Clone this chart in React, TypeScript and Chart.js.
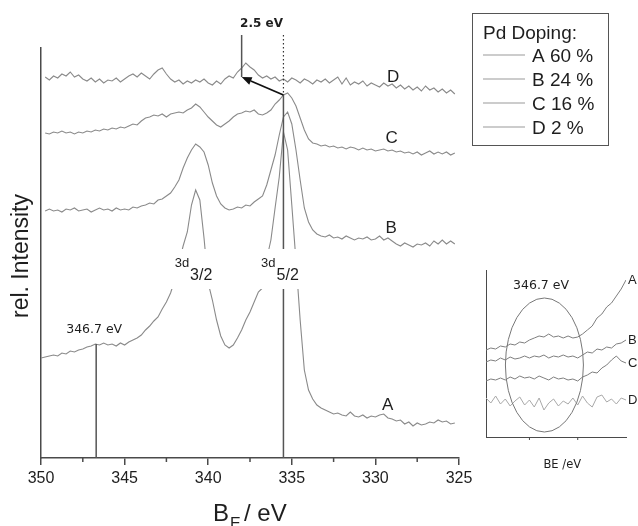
import React, { useEffect, useRef } from "react";
import { Chart, registerables } from "chart.js";

Chart.register(...registerables);

const SANS = '"Liberation Sans", Arial, Helvetica, sans-serif';
const DEJAVU = '"DejaVu Sans", Verdana, sans-serif';
const AXIS_COLOR = "#4a4a4a";
const CURVE_COLOR = "#8a8a8a";
const TEXT_COLOR = "#1e1e1e";

// ---- main spectra (binding energy in eV, relative intensity in arbitrary units) ----
const ENERGY = [
  350, 349.75, 349.5, 349.25, 349, 348.75, 348.5, 348.25, 348, 347.75, 347.5, 347.25,
  347, 346.75, 346.5, 346.25, 346, 345.75, 345.5, 345.25, 345, 344.75, 344.5, 344.25,
  344, 343.75, 343.5, 343.25, 343, 342.75, 342.5, 342.25, 342, 341.75, 341.5, 341.25,
  341, 340.75, 340.5, 340.25, 340, 339.75, 339.5, 339.25, 339, 338.75, 338.5, 338.25,
  338, 337.75, 337.5, 337.25, 337, 336.75, 336.5, 336.25, 336, 335.75, 335.5, 335.25,
  335, 334.75, 334.5, 334.25, 334, 333.75, 333.5, 333.25, 333, 332.75, 332.5, 332.25,
  332, 331.75, 331.5, 331.25, 331, 330.75, 330.5, 330.25, 330, 329.75, 329.5, 329.25,
  329, 328.75, 328.5, 328.25, 328, 327.75, 327.5, 327.25, 327, 326.75, 326.5, 326.25,
  326, 325.75, 325.5, 325.25,
];

const SERIES_A = [
  100, 101, 102, 103, 102, 105, 104, 107, 106, 108, 109, 111,
  112, 114, 113, 115, 113, 114, 112, 115, 113, 116, 118, 120,
  123, 128, 132, 137, 141, 149, 156, 165, 178, 195, 212, 226,
  253, 268, 258, 220, 175, 158, 138, 122, 113, 110, 113, 120,
  128, 138, 146, 156, 166, 170, 199, 218, 250, 281, 326, 308,
  253, 197, 138, 88, 68, 59, 53, 50, 48, 46, 44, 45,
  43, 42, 46, 42, 41, 43, 40, 42, 41, 43, 44, 40,
  39, 37, 38, 34, 36, 32, 35, 33, 34, 36, 35, 38,
  36, 37, 34, 35,
];

const SERIES_B = [
  null, 247, 249, 247, 248, 246, 249, 248, 250, 247, 248, 249,
  246, 248, 250, 248, 249, 247, 250, 248, 249, 248, 251, 250,
  252, 253, 255, 254, 258, 259, 262, 265, 271, 278, 290, 300,
  308, 314, 311, 306, 293, 275, 262, 254, 250, 248, 249, 251,
  250, 253, 252, 256, 259, 262, 273, 288, 303, 323, 341, 346,
  334, 308, 278, 250, 236, 228, 224, 222, 221, 223, 220, 221,
  219, 222, 220, 218, 220, 219, 221, 218, 219, 222, 218, 220,
  217, 214, 212, 215, 213, 211, 214, 213, 215, 212, 217, 214,
  218, 214, 217, 214,
];

const SERIES_C = [
  null, 325, 324, 326, 325, 327, 325, 326, 324, 326, 325, 327,
  326, 328, 327, 329, 328, 330, 329, 331, 330, 332, 334, 333,
  337, 340, 341, 343, 342, 344, 341, 344, 345, 346, 345, 348,
  350, 354, 351, 346, 341, 337, 333, 331, 334, 337, 341, 344,
  345, 347, 346, 348, 344, 343, 345, 348, 354, 358, 363, 365,
  360, 352, 340, 328, 319, 315, 314, 312, 313, 311, 312, 310,
  311, 309, 311, 310, 308, 310, 308, 309, 307, 308, 309, 307,
  308, 306, 307, 305, 306, 304, 306, 303, 305, 307, 304, 306,
  304, 306, 303, 305,
];

const SERIES_D = [
  null, 381, 378, 382, 380, 384, 382, 386, 381, 383, 379, 377,
  380, 376, 379, 375, 378, 377, 380, 376, 379, 382, 384, 381,
  385, 382, 379, 384, 388, 390, 384, 379, 376, 378, 374, 377,
  375, 378, 376, 379, 375, 373, 377, 374, 379, 382, 380, 386,
  390, 395, 391, 388, 383, 380, 382, 379, 381, 377, 379, 376,
  380, 378, 375, 379, 377, 374, 378, 376, 379, 375, 378, 381,
  374, 380, 373, 376, 374, 377, 372, 375, 373, 371, 375, 372,
  374, 370, 373, 369, 372, 368, 371, 367, 372, 368, 370, 366,
  369, 365, 368, 364,
];

const SERIES = [SERIES_A, SERIES_B, SERIES_C, SERIES_D];
const SERIES_LABELS = ["A 60 %", "B 24 %", "C 16 %", "D 2 %"];
const LEGEND_TITLE = "Pd Doping:";
const CURVE_TAGS = ["A", "B", "C", "D"];
// tag anchor: [binding energy, intensity level]
const CURVE_TAG_POS = [
  [329.6, 48],
  [329.4, 225],
  [329.4, 315],
  [329.3, 376],
];

const X_MAJOR_TICKS = [350, 345, 340, 335, 330, 325];
const X_MINOR_TICKS = [347.5, 342.5, 337.5, 332.5, 327.5];
const X_TITLE_MAIN = "B";
const X_TITLE_SUB = "E";
const X_TITLE_REST = "/ eV";
const Y_TITLE = "rel. Intensity";

const ONSET_EV = 346.7;
const ONSET_LEVEL = 114;
const ONSET_LABEL = "346.7 eV";
const PEAK_EV = 335.5;
const PEAK_LEVEL = 363;
const SHIFT_EV = 338.0;
const SHIFT_LEVEL = 381;
const TOP_LEVEL = 423;
const SHIFT_LABEL = "2.5 eV";
const PEAK_LABELS = [
  { ev: 340.75, main: "3d", sub: "3/2" },
  { ev: 335.4, main: "3d", sub: "5/2" },
];

// ---- inset ----
const INSET_ENERGY = [
  340.5, 341, 341.5, 342, 342.5, 343, 343.5, 344, 344.5, 345, 345.5, 346, 346.5, 347, 347.5,
  348, 348.5, 349, 349.5, 350, 350.5, 351, 351.5, 352, 352.5, 353, 353.5, 354, 354.5, 355,
];
const INSET_A = [87, 89, 88, 91, 90, 93, 92, 95, 94, 97, 99, 101, 100, 103, 100, 101, 99, 101, 99, 100, 103, 107, 111, 119, 123, 130, 134, 141, 148, 157];
const INSET_B = [75, 77, 76, 79, 77, 80, 78, 79, 81, 79, 81, 80, 82, 79, 81, 80, 82, 80, 81, 79, 82, 85, 84, 88, 87, 90, 89, 93, 94, 97];
const INSET_C = [56, 58, 57, 59, 57, 60, 58, 61, 59, 60, 58, 61, 59, 57, 60, 58, 59, 57, 58, 56, 60, 62, 65, 64, 69, 72, 77, 81, 76, 74];
const INSET_D = [39, 34, 41, 33, 38, 31, 36, 40, 32, 37, 30, 39, 27, 34, 38, 31, 36, 33, 39, 32, 41, 34, 30, 40, 42, 35, 38, 33, 39, 37];
const INSET_SERIES = [INSET_A, INSET_B, INSET_C, INSET_D];
const INSET_COLORS = ["#7e7e7e", "#7e7e7e", "#7e7e7e", "#a8a8a8"];
const INSET_TICKS = [345, 350];
const INSET_TITLE = "BE /eV";
const INSET_MARK_LABEL = "346.7 eV";
const INSET_TAG_LEVELS = [157, 97, 74, 37];

function line(ctx: any, x1: number, y1: number, x2: number, y2: number) {
  ctx.beginPath();
  ctx.moveTo(x1, y1);
  ctx.lineTo(x2, y2);
  ctx.stroke();
}

const mainDecor = {
  id: "mainDecor",
  afterDraw(chart: any) {
    const { ctx } = chart;
    const xs = chart.scales.x;
    const ys = chart.scales.y;
    const X = (v: number) => xs.getPixelForValue(v);
    const Y = (v: number) => ys.getPixelForValue(v);
    ctx.save();

    // minor ticks
    ctx.strokeStyle = AXIS_COLOR;
    ctx.lineWidth = 1.5;
    X_MINOR_TICKS.forEach((v) => line(ctx, X(v), ys.bottom, X(v), ys.bottom + 4));

    // reference lines
    ctx.strokeStyle = "#555";
    ctx.lineWidth = 1.5;
    line(ctx, X(ONSET_EV), Y(ONSET_LEVEL), X(ONSET_EV), ys.bottom);
    line(ctx, X(PEAK_EV), Y(PEAK_LEVEL), X(PEAK_EV), ys.bottom);

    // label band
    ctx.fillStyle = "#ffffff";
    ctx.fillRect(X(342.6), Y(209), X(334.3) - X(342.6), Y(169) - Y(209));

    // peak labels
    ctx.fillStyle = TEXT_COLOR;
    ctx.textAlign = "left";
    ctx.textBaseline = "alphabetic";
    PEAK_LABELS.forEach((p, i) => {
      const left = X(p.ev) - (i === 0 ? 21 : 24);
      ctx.font = `13px ${SANS}`;
      ctx.fillText(p.main, left, 267);
      const w = ctx.measureText(p.main).width;
      ctx.font = `16px ${SANS}`;
      ctx.fillText(p.sub, left + w + 1, 280);
    });

    // dotted line
    ctx.strokeStyle = "#333";
    ctx.lineWidth = 1.2;
    ctx.setLineDash([1.5, 2.5]);
    line(ctx, X(PEAK_EV), Y(TOP_LEVEL), X(PEAK_EV), Y(PEAK_LEVEL + 2));
    ctx.setLineDash([]);

    // shift marker
    ctx.strokeStyle = "#555";
    ctx.lineWidth = 1.5;
    line(ctx, X(SHIFT_EV), Y(TOP_LEVEL), X(SHIFT_EV), Y(SHIFT_LEVEL));

    // arrow
    const sx = X(PEAK_EV), sy = Y(PEAK_LEVEL);
    const ex = X(SHIFT_EV), ey = Y(SHIFT_LEVEL);
    const ang = Math.atan2(ey - sy, ex - sx);
    const hl = 10, hw = 4;
    const bx = ex - hl * Math.cos(ang), by = ey - hl * Math.sin(ang);
    ctx.strokeStyle = "#111";
    ctx.fillStyle = "#111";
    ctx.lineWidth = 1.8;
    line(ctx, sx, sy, bx, by);
    ctx.beginPath();
    ctx.moveTo(ex, ey);
    ctx.lineTo(bx - hw * Math.sin(ang), by + hw * Math.cos(ang));
    ctx.lineTo(bx + hw * Math.sin(ang), by - hw * Math.cos(ang));
    ctx.closePath();
    ctx.fill();

    // annotation texts
    ctx.fillStyle = TEXT_COLOR;
    ctx.textAlign = "center";
    ctx.font = `bold 12px ${DEJAVU}`;
    ctx.fillText(SHIFT_LABEL, (X(SHIFT_EV) + X(PEAK_EV)) / 2 - 1, 27);
    ctx.font = `12.5px ${DEJAVU}`;
    ctx.fillText(ONSET_LABEL, X(ONSET_EV) - 2, Y(125));

    // curve tags
    ctx.textAlign = "left";
    ctx.font = `17px ${SANS}`;
    CURVE_TAGS.forEach((t, i) => {
      ctx.fillText(t, X(CURVE_TAG_POS[i][0]), Y(CURVE_TAG_POS[i][1]));
    });

    // legend box
    ctx.fillStyle = "#ffffff";
    ctx.fillRect(472, 13, 136, 132);
    ctx.strokeStyle = "#555";
    ctx.lineWidth = 1;
    ctx.strokeRect(472.5, 13.5, 136, 132);
    ctx.fillStyle = TEXT_COLOR;
    ctx.font = `19px ${SANS}`;
    ctx.fillText(LEGEND_TITLE, 483, 39);
    chart.data.datasets.forEach((ds: any, i: number) => {
      const cy = 55 + i * 24;
      ctx.strokeStyle = "#9a9a9a";
      ctx.lineWidth = 1.2;
      line(ctx, 483, cy, 525, cy);
      ctx.fillStyle = TEXT_COLOR;
      ctx.fillText(ds.label, 532, cy + 7);
    });

    // axis titles
    ctx.save();
    ctx.translate(28, 256);
    ctx.rotate(-Math.PI / 2);
    ctx.textAlign = "center";
    ctx.font = `23px ${SANS}`;
    ctx.fillText(Y_TITLE, 0, 0);
    ctx.restore();

    ctx.textAlign = "left";
    ctx.font = `24px ${SANS}`;
    ctx.fillText(X_TITLE_MAIN, 213, 521);
    ctx.font = `16px ${SANS}`;
    ctx.fillText(X_TITLE_SUB, 230, 529);
    ctx.font = `24px ${SANS}`;
    ctx.fillText(X_TITLE_REST, 244, 521);

    ctx.restore();
  },
};

const insetDecor = {
  id: "insetDecor",
  afterDraw(chart: any) {
    const { ctx } = chart;
    const xs = chart.scales.x;
    const ys = chart.scales.y;
    const X = (v: number) => xs.getPixelForValue(v);
    const Y = (v: number) => ys.getPixelForValue(v);
    ctx.save();
    ctx.strokeStyle = AXIS_COLOR;
    ctx.lineWidth = 1;
    INSET_TICKS.forEach((v) => line(ctx, X(v), ys.bottom, X(v), ys.bottom + 3));

    ctx.strokeStyle = "#777";
    ctx.lineWidth = 1;
    ctx.beginPath();
    ctx.ellipse(X(346.55), Y(72), 39, 67, 0, 0, Math.PI * 2);
    ctx.stroke();

    ctx.fillStyle = TEXT_COLOR;
    ctx.textAlign = "center";
    ctx.textBaseline = "alphabetic";
    ctx.font = `12.5px ${DEJAVU}`;
    ctx.fillText(INSET_MARK_LABEL, X(346.2), 29);
    ctx.font = `11.5px ${DEJAVU}`;
    ctx.fillText(INSET_TITLE, X(348.4), 208);

    ctx.textAlign = "left";
    ctx.textBaseline = "middle";
    ctx.font = `13px ${SANS}`;
    CURVE_TAGS.forEach((t, i) => {
      ctx.fillText(t, 158, Y(INSET_TAG_LEVELS[i]));
    });
    ctx.restore();
  },
};

export default function App() {
  const mainRef = useRef<HTMLCanvasElement | null>(null);
  const insetRef = useRef<HTMLCanvasElement | null>(null);

  useEffect(() => {
    Chart.defaults.font.family = SANS;
    const main = new Chart(mainRef.current as HTMLCanvasElement, {
      type: "line",
      data: {
        datasets: SERIES.map((s, i) => ({
          label: SERIES_LABELS[i],
          data: ENERGY.map((e, j) => ({ x: e, y: s[j] })),
          borderColor: CURVE_COLOR,
          borderWidth: 1.1,
          pointRadius: 0,
          tension: 0,
          fill: false,
        })),
      },
      options: {
        responsive: false,
        animation: false,
        events: [],
        layout: { padding: { top: 48, right: 179, left: 0, bottom: 0 } },
        plugins: { legend: { display: false }, tooltip: { enabled: false }, title: { display: false } },
        scales: {
          x: {
            type: "linear",
            reverse: true,
            min: 325,
            max: 350,
            afterBuildTicks: (s: any) => {
              s.ticks = X_MAJOR_TICKS.map((v) => ({ value: v }));
            },
            afterFit: (s: any) => {
              s.height = 68;
            },
            ticks: { color: TEXT_COLOR, font: { size: 16, family: SANS }, padding: 4, maxRotation: 0 },
            grid: { drawOnChartArea: false, drawTicks: true, tickLength: 7, color: AXIS_COLOR, lineWidth: 1.5 },
            border: { display: true, color: AXIS_COLOR, width: 1.5 },
          },
          y: {
            type: "linear",
            min: 0,
            max: 410,
            afterFit: (s: any) => {
              s.width = 41;
            },
            ticks: { display: false },
            grid: { display: false },
            border: { display: true, color: AXIS_COLOR, width: 1.5 },
          },
        },
      },
      plugins: [mainDecor],
    } as any);

    const inset = new Chart(insetRef.current as HTMLCanvasElement, {
      type: "line",
      data: {
        datasets: INSET_SERIES.map((s, i) => ({
          label: CURVE_TAGS[i],
          data: INSET_ENERGY.map((e, j) => ({ x: e, y: s[j] })),
          borderColor: INSET_COLORS[i],
          borderWidth: 1,
          pointRadius: 0,
          tension: 0,
          fill: false,
        })),
      },
      options: {
        responsive: false,
        animation: false,
        events: [],
        layout: { padding: { top: 10, right: 12, left: 0, bottom: 0 } },
        plugins: { legend: { display: false }, tooltip: { enabled: false } },
        scales: {
          x: {
            type: "linear",
            min: 340.5,
            max: 355,
            afterFit: (s: any) => {
              s.height = 33;
            },
            ticks: { display: false },
            grid: { display: false },
            border: { display: true, color: AXIS_COLOR, width: 1 },
          },
          y: {
            type: "linear",
            min: 0,
            max: 167,
            afterFit: (s: any) => {
              s.width = 16;
            },
            ticks: { display: false },
            grid: { display: false },
            border: { display: true, color: AXIS_COLOR, width: 1 },
          },
        },
      },
      plugins: [insetDecor],
    } as any);

    return () => {
      main.destroy();
      inset.destroy();
    };
  }, []);

  return (
    <div style={{ position: "absolute", left: 0, top: 0, width: 638, height: 526, background: "#fff", overflow: "hidden" }}>
      <canvas ref={mainRef} width={638} height={526} style={{ position: "absolute", left: 0, top: 0, width: 638, height: 526 }} />
      <canvas ref={insetRef} width={168} height={210} style={{ position: "absolute", left: 470, top: 260, width: 168, height: 210 }} />
    </div>
  );
}
